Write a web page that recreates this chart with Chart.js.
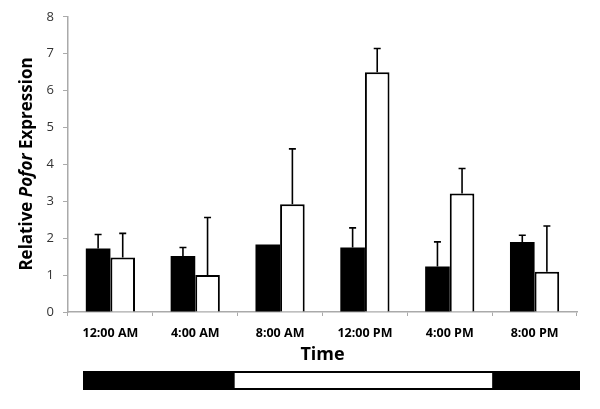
<!DOCTYPE html>
<html>
<head>
<meta charset="utf-8">
<script src="https://cdn.jsdelivr.net/npm/chart.js@4"></script>
<style>
  html, body { margin: 0; padding: 0; background: #fff; }
  #wrap { width: 600px; height: 409px; }
</style>
</head>
<body>
<div id="wrap"><canvas id="pofor"></canvas></div>
<script>
var timeLabels = ["12:00 AM", "4:00 AM", "8:00 AM", "12:00 PM", "4:00 PM", "8:00 PM"];
var darkValues = [1.72, 1.52, 1.83, 1.75, 1.23, 1.90];
var darkErrors = [0.38, 0.23, 0.00, 0.53, 0.67, 0.18];
var lightValues = [1.48, 1.00, 2.92, 6.50, 3.21, 1.09];
var lightErrors = [0.65, 1.56, 1.50, 0.64, 0.68, 1.24];
var yTicks = [0, 1, 2, 3, 4, 5, 6, 7, 8];
// light phase on the day/night strip, in category index units
var lightPhase = [1.5, 4.5];

Chart.defaults.font.family = "Open Sans";
Chart.defaults.color = "#333";

// error bars, only the upper half
var errorBars = {
  id: "errorBars",
  afterDatasetsDraw: function (chart) {
    var ctx = chart.ctx;
    var y = chart.scales.y;
    var errs = [darkErrors, lightErrors];
    ctx.save();
    ctx.strokeStyle = "#000";
    ctx.lineWidth = 1.6;
    chart.data.datasets.forEach(function (ds, di) {
      var meta = chart.getDatasetMeta(di);
      meta.data.forEach(function (bar, i) {
        var e = errs[di][i];
        if (!e) return;
        var x = bar.x;
        var top = y.getPixelForValue(ds.data[i] + e);
        ctx.beginPath();
        ctx.moveTo(x, bar.y);
        ctx.lineTo(x, top);
        ctx.moveTo(x - 3.5, top);
        ctx.lineTo(x + 3.5, top);
        ctx.stroke();
      });
    });
    ctx.restore();
  }
};

// axis titles and the light/dark strip under the axis
var extras = {
  id: "extras",
  afterDraw: function (chart) {
    var ctx = chart.ctx;
    var area = chart.chartArea;
    var x = chart.scales.x;
    ctx.save();

    // y title with italic gene name
    var parts = [["bold ", "Relative "], ["italic bold ", "Pofor"], ["bold ", " Expression"]];
    var size = 17;
    var total = 0;
    parts.forEach(function (p) {
      ctx.font = p[0] + size + "px 'Open Sans'";
      total += ctx.measureText(p[1]).width;
    });
    ctx.translate(27, 164);
    ctx.rotate(-Math.PI / 2);
    ctx.fillStyle = "#000";
    ctx.textBaseline = "middle";
    ctx.textAlign = "left";
    var cx = -total / 2;
    parts.forEach(function (p) {
      ctx.font = p[0] + size + "px 'Open Sans'";
      ctx.fillText(p[1], cx, 0);
      cx += ctx.measureText(p[1]).width;
    });
    ctx.setTransform(1, 0, 0, 1, 0, 0);

    // x title
    ctx.font = "bold 18px 'Open Sans'";
    ctx.textAlign = "center";
    ctx.textBaseline = "middle";
    ctx.fillText("Time", (area.left + area.right) / 2, 355);

    // day/night strip
    var x0 = area.left + 15, x1 = area.right + 3;
    ctx.fillStyle = "#000";
    ctx.fillRect(x0, 371, x1 - x0, 19);
    var w0 = x.getPixelForValue(lightPhase[0]) - 3;
    var w1 = x.getPixelForValue(lightPhase[1]);
    ctx.fillStyle = "#fff";
    ctx.fillRect(w0, 373, w1 - w0, 15);
    ctx.restore();
  }
};

var chart = new Chart(document.getElementById("pofor"), {
  type: "bar",
  data: {
    labels: timeLabels,
    datasets: [
      {
        label: "Dark",
        data: darkValues,
        backgroundColor: "#000",
        borderColor: "#000",
        borderWidth: 0,
        categoryPercentage: 0.58,
        barPercentage: 1
      },
      {
        label: "Light",
        data: lightValues,
        backgroundColor: "#fff",
        borderColor: "#000",
        borderWidth: 2,
        borderSkipped: "bottom",
        categoryPercentage: 0.58,
        barPercentage: 1
      }
    ]
  },
  options: {
    responsive: true,
    maintainAspectRatio: false,
    animation: false,
    layout: { padding: { top: 16, right: 23, left: 0, bottom: 0 } },
    plugins: {
      legend: { display: false },
      tooltip: { enabled: false }
    },
    scales: {
      x: {
        afterFit: function (s) { s.height = 97; },
        grid: { drawOnChartArea: false, tickLength: 4, color: "#aaa", offset: true },
        border: { color: "#aaa", width: 1.5 },
        ticks: {
          padding: 10,
          color: "#000",
          font: { size: 12.5, weight: "bold" }
        }
      },
      y: {
        min: 0,
        max: 8,
        afterFit: function (s) { s.width = 68; },
        afterBuildTicks: function (s) { s.ticks = yTicks.map(function (v) { return { value: v }; }); },
        grid: { drawOnChartArea: false, tickLength: 5, color: "#aaa" },
        border: { color: "#aaa", width: 1.5 },
        ticks: {
          padding: 9,
          color: "#333",
          font: { size: 13 }
        }
      }
    }
  },
  plugins: [errorBars, extras]
});
</script>
</body>
</html>
